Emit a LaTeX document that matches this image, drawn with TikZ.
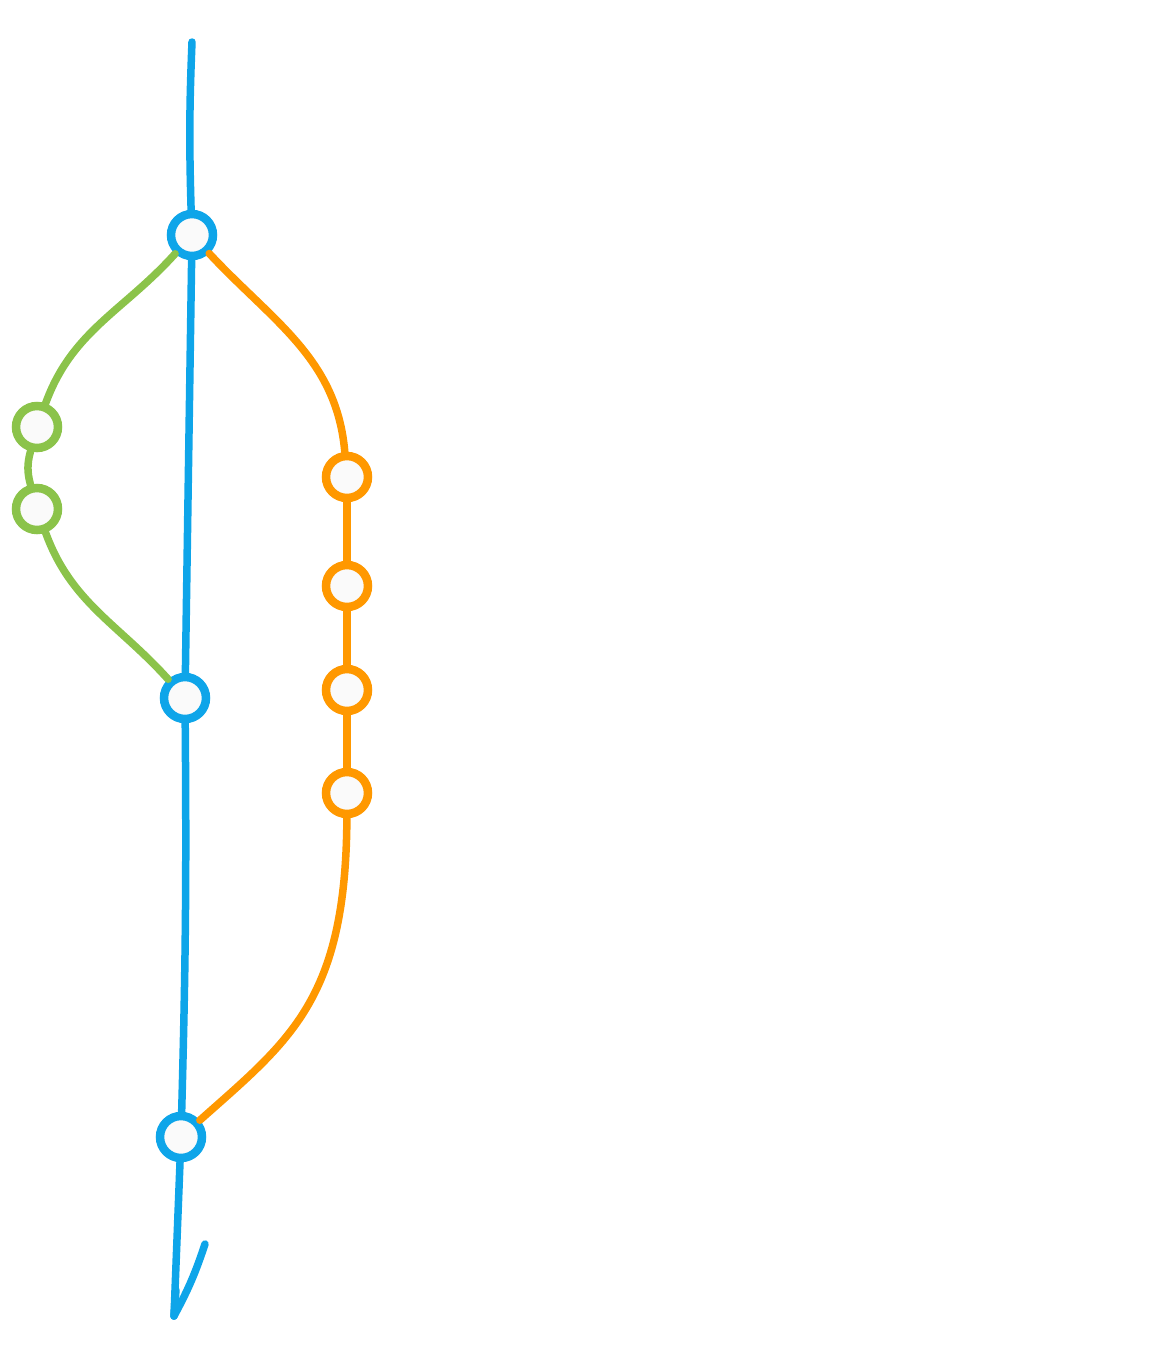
\documentclass[tikz,border=0pt]{standalone}
\usepackage{xcolor}
\usepackage{tikz}
\usetikzlibrary{calc}
\definecolor{mainblue}{RGB}{14,165,233}
\definecolor{featgreen}{RGB}{139,195,74}
\definecolor{featorange}{RGB}{255,152,0}
\definecolor{dotfill}{RGB}{250,250,250}

\begin{document}
\begin{tikzpicture}[x=0.02cm, y=-0.02cm,
		commit/.style={draw, circle, line width=0.17cm, fill=dotfill, minimum size=0.84cm, inner sep=0pt},
		branch/.style={line width=0.15cm, line cap=round}]
		\useasboundingbox (0,0) rectangle (1173,1350);

		% main line
		\node[commit, draw=mainblue] (b1) at (192,235) {};
		\node[commit, draw=mainblue] (b2) at (185,698) {};
		\node[commit, draw=mainblue] (b3) at (181,1137) {};
		\coordinate (top) at (192,42);
		\coordinate (tip) at (174,1316);

		% green branch
		\node[commit, draw=featgreen] (g1) at (37,427) {};
		\node[commit, draw=featgreen] (g2) at (37,509) {};

		% orange branch
		\node[commit, draw=featorange] (o1) at (347,477) {};
		\node[commit, draw=featorange] (o2) at (347,586) {};
		\node[commit, draw=featorange] (o3) at (347,690) {};
		\node[commit, draw=featorange] (o4) at (347,793) {};

		\draw[branch, mainblue] (top) to[bend right=2] (b1);
		\draw[branch, mainblue] (b1) -- (b2);
		\draw[branch, mainblue] (b2) to[bend left=1] (b3);
		\draw[branch, mainblue] (b3) -- (tip);
		\draw[branch, mainblue] (tip) to[bend right=5] ($(tip)+(31,-72)$);
		\draw[branch, mainblue] (tip) -- ($(tip)+(2,-26)$);

		\draw[branch, featgreen] (b1) to[out=-132, in=70] (g1);
		\draw[branch, featgreen] (g1) to[bend right=15] (g2);
		\draw[branch, featgreen] (g2) to[out=-70, in=132] (b2);

		\draw[branch, featorange] (b1) to[out=-47, in=95] (o1);
		\draw[branch, featorange] (o1) -- (o2);
		\draw[branch, featorange] (o2) -- (o3);
		\draw[branch, featorange] (o3) -- (o4);
		\draw[branch, featorange] (o4) .. controls (346,1000) and (290,1040) .. (b3);
	\end{tikzpicture}
\end{document}
